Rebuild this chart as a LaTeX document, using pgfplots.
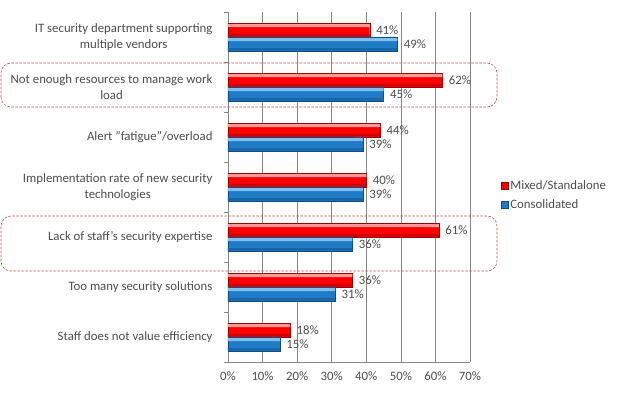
\documentclass[border=0pt]{standalone}
\usepackage{fontspec}
\setmainfont{Carlito}
\usepackage{pgfplots}
\pgfplotsset{compat=1.18}
\definecolor{txt}{HTML}{4D4D4D}
\definecolor{gridc}{HTML}{868686}
\definecolor{dashred}{HTML}{C0504D}
\definecolor{redtop}{HTML}{FF9A9A}
\definecolor{redmid}{HTML}{FF0000}
\definecolor{redlow}{HTML}{D00000}
\definecolor{redbot}{HTML}{A00000}
\definecolor{bluetop}{HTML}{7FC0EE}
\definecolor{bluemid}{HTML}{1F7BC6}
\definecolor{bluelow}{HTML}{1865A8}
\definecolor{bluebot}{HTML}{0E4C85}
\pgfplotstableread{
y red blue
0 18 15
1 36 31
2 61 36
3 40 39
4 44 39
5 62 45
6 41 49
}\datatable
\begin{document}
\begin{tikzpicture}[x=1bp,y=1bp]
\useasboundingbox (-228,-31) rectangle (390,362);
\begin{axis}[
  at={(0,0)}, anchor=south west,
  scale only axis, width=242bp, height=350bp,
  xmin=0, xmax=70, ymin=-0.5, ymax=6.5,
  xbar, bar width=14bp,
  /pgf/number format/assume math mode=true,
  font=\fontsize{12.8bp}{15bp}\selectfont,
  xtick={0,10,...,70},
  xticklabel={\pgfmathprintnumber{\tick}\%},
  xticklabel style={text=txt, yshift=-6bp},
  xtick style={draw=none},
  ytick={0,...,6},
  yticklabels={Staff does not value efficiency, Too many security solutions, {Lack of staff\symbol{39}s security expertise}, {Implementation rate of new security\\technologies}, {Alert \symbol{34}fatigue\symbol{34}/overload}, {Not enough resources to manage work\\load}, {IT security department supporting\\multiple vendors}},
  yticklabel style={align=center, text=txt, xshift=-12bp, font=\fontsize{12.8bp}{15.5bp}\selectfont},
  minor ytick={-0.5,0.5,...,6.5},
  major tick length=0pt, minor tick length=4bp, tick align=outside,
  minor tick style={gridc},
  xmajorgrids, major grid style={gridc, line width=0.6pt},
  axis x line*=bottom, axis y line*=left,
  axis line style={gridc, line width=0.6pt, -},
  lbl/.style={nodes near coords={\pgfmathprintnumber{\pgfplotspointmeta}\%},
    every node near coord/.append style={text=txt, xshift=3bp}},
  legend style={draw=none, fill=none, at={(axis description cs:1.115,0.53)}, anchor=north west, text=txt, row sep=5bp, font=\fontsize{12.8bp}{15bp}\selectfont},
  legend cell align=left,
  legend image code/.code={\path[#1] (0bp,-3bp) rectangle (7bp,4bp);},
]
% Mixed/Standalone
\addplot[lbl, bar shift=7bp, draw=redbot, line width=0.4pt, fill=redmid] table[x=red, y=y] {\datatable};
\addlegendentry{Mixed/Standalone}
\addplot[forget plot, bar shift=11.3bp, bar width=3bp, draw=none, fill=redtop] table[x=red, y=y] {\datatable};
\addplot[forget plot, bar shift=1.6bp, bar width=2.4bp, draw=none, fill=redlow] table[x=red, y=y] {\datatable};
% Consolidated
\addplot[lbl, bar shift=-7bp, draw=bluebot, line width=0.4pt, fill=bluemid] table[x=blue, y=y] {\datatable};
\addlegendentry{Consolidated}
\addplot[forget plot, bar shift=-2.7bp, bar width=3bp, draw=none, fill=bluetop] table[x=blue, y=y] {\datatable};
\addplot[forget plot, bar shift=-12.4bp, bar width=2.4bp, draw=none, fill=bluelow] table[x=blue, y=y] {\datatable};
\end{axis}
\draw[dashred, line width=0.6pt, dash pattern=on 2.5bp off 1.5bp, rounded corners=10bp] (-227,255) rectangle (269,299);
\draw[dashred, line width=0.6pt, dash pattern=on 2.5bp off 1.5bp, rounded corners=10bp] (-227,91) rectangle (269,146);
\end{tikzpicture}
\end{document}
